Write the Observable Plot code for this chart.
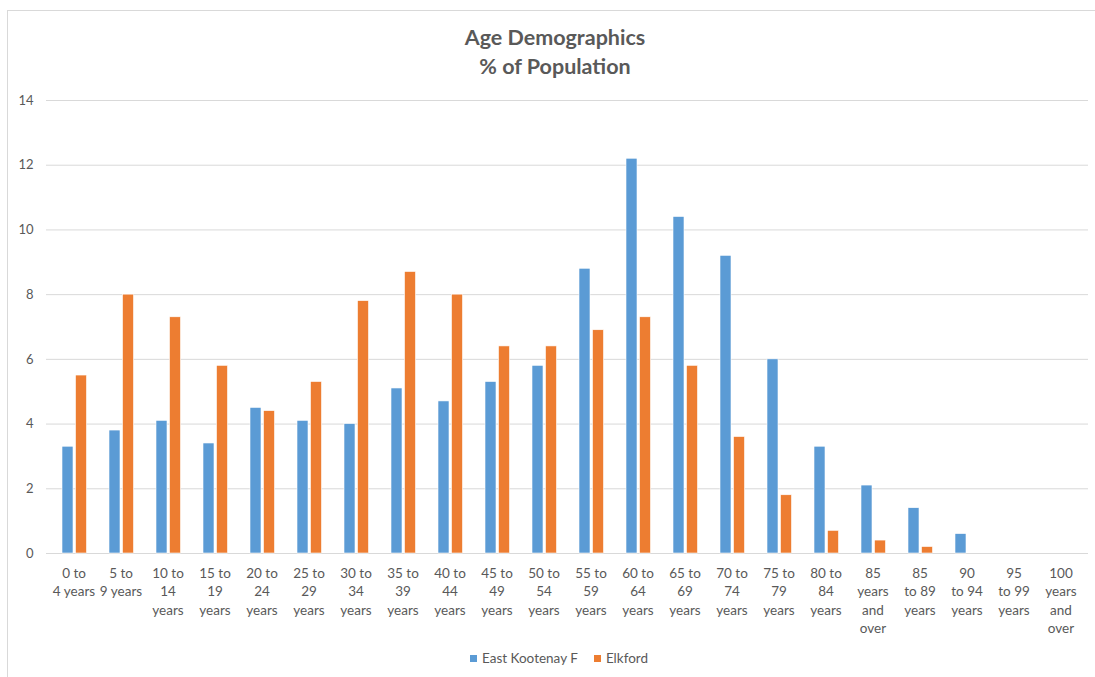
<!DOCTYPE html>
<html>
<head>
<meta charset="utf-8">
<script src="https://cdn.jsdelivr.net/npm/d3@7"></script>
<script src="https://cdn.jsdelivr.net/npm/@observablehq/plot@0.6"></script>
<style>
  html, body { margin: 0; padding: 0; background: #fff; }
  body { width: 1095px; height: 677px; position: relative; overflow: hidden; font-family: Lato, "Open Sans", sans-serif; }
  #frame { position: absolute; left: 7px; top: 10px; width: 1200px; height: 800px; border-top: 1px solid #d9d9d9; border-left: 1px solid #d9d9d9; }
  .title { position: absolute; left: 0; width: 1110px; text-align: center; font-weight: bold; font-size: 21.5px; color: #595959; }
  #chart { position: absolute; left: 0; top: 0; }
  #legend { position: absolute; top: 650px; left: 0; width: 1118px; text-align: center; font-size: 13.5px; color: #595959; }
  .item { display: inline-block; margin: 0 8px; }
  .sw { display: inline-block; width: 7px; height: 7px; margin-right: 5px; vertical-align: 1px; }
</style>
</head>
<body>
<div id="frame"></div>
<div class="title" style="top:24px">Age Demographics</div>
<div class="title" style="top:53px">% of Population</div>
<div id="chart"></div>
<div id="legend"></div>
<script>
const categories = [
  "0 to 4 years", "5 to 9 years", "10 to 14 years", "15 to 19 years", "20 to 24 years",
  "25 to 29 years", "30 to 34 years", "35 to 39 years", "40 to 44 years", "45 to 49 years",
  "50 to 54 years", "55 to 59 years", "60 to 64 years", "65 to 69 years", "70 to 74 years",
  "75 to 79 years", "80 to 84 years", "85 years and over", "85 to 89 years", "90 to 94 years",
  "95 to 99 years", "100 years and over"
];
const tickLabels = [
  "0 to\n4 years", "5 to\n9 years", "10 to\n14\nyears", "15 to\n19\nyears", "20 to\n24\nyears",
  "25 to\n29\nyears", "30 to\n34\nyears", "35 to\n39\nyears", "40 to\n44\nyears", "45 to\n49\nyears",
  "50 to\n54\nyears", "55 to\n59\nyears", "60 to\n64\nyears", "65 to\n69\nyears", "70 to\n74\nyears",
  "75 to\n79\nyears", "80 to\n84\nyears", "85\nyears\nand\nover", "85\nto 89\nyears", "90\nto 94\nyears",
  "95\nto 99\nyears", "100\nyears\nand\nover"
];
const eastKootenay = [3.3, 3.8, 4.1, 3.4, 4.5, 4.1, 4.0, 5.1, 4.7, 5.3, 5.8, 8.8, 12.2, 10.4, 9.2, 6.0, 3.3, 2.1, 1.4, 0.6, 0, 0];
const elkford = [5.5, 8.0, 7.3, 5.8, 4.4, 5.3, 7.8, 8.7, 8.0, 6.4, 6.4, 6.9, 7.3, 5.8, 3.6, 1.8, 0.7, 0.4, 0.2, 0, 0, 0];
const series = ["East Kootenay F", "Elkford"];
const colors = ["#5b9bd5", "#ed7d31"];
const yTicks = [0, 2, 4, 6, 8, 10, 12, 14];

const ekData = categories.map((c, i) => ({category: c, value: eastKootenay[i]})).filter(d => d.value > 0);
const elData = categories.map((c, i) => ({category: c, value: elkford[i]})).filter(d => d.value > 0);
const labelOf = new Map(categories.map((c, i) => [c, tickLabels[i]]));

const chart = Plot.plot({
  width: 1095,
  height: 640,
  marginTop: 100,
  marginBottom: 87,
  marginLeft: 46,
  marginRight: 7,
  style: {fontFamily: "Lato, 'Open Sans', sans-serif", color: "#595959", background: "transparent"},
  x: {domain: categories, padding: 0},
  y: {domain: [0, 14]},
  marks: [
    Plot.gridY(yTicks, {stroke: "#d9d9d9", strokeOpacity: 1, strokeWidth: 1}),
    Plot.axisY(yTicks, {tickSize: 0, tickPadding: 13, fontSize: 13, fill: "#595959", label: null}),
    Plot.axisX({tickSize: 0, tickPadding: 11, fontSize: 13.5, fill: "#595959", lineHeight: 1.37, label: null, tickFormat: d => labelOf.get(d)}),
    Plot.barY(ekData, {x: "category", y: "value", fill: colors[0], stroke: "white", strokeWidth: 0.6, insetLeft: 12, insetRight: 24}),
    Plot.barY(elData, {x: "category", y: "value", fill: colors[1], stroke: "white", strokeWidth: 0.6, insetLeft: 25.5, insetRight: 10.5})
  ]
});
document.getElementById("chart").appendChild(chart);

const legend = document.getElementById("legend");
series.forEach((s, i) => {
  const item = document.createElement("span");
  item.className = "item";
  const sw = document.createElement("span");
  sw.className = "sw";
  sw.style.background = colors[i];
  item.appendChild(sw);
  item.appendChild(document.createTextNode(s));
  legend.appendChild(item);
});
</script>
</body>
</html>
